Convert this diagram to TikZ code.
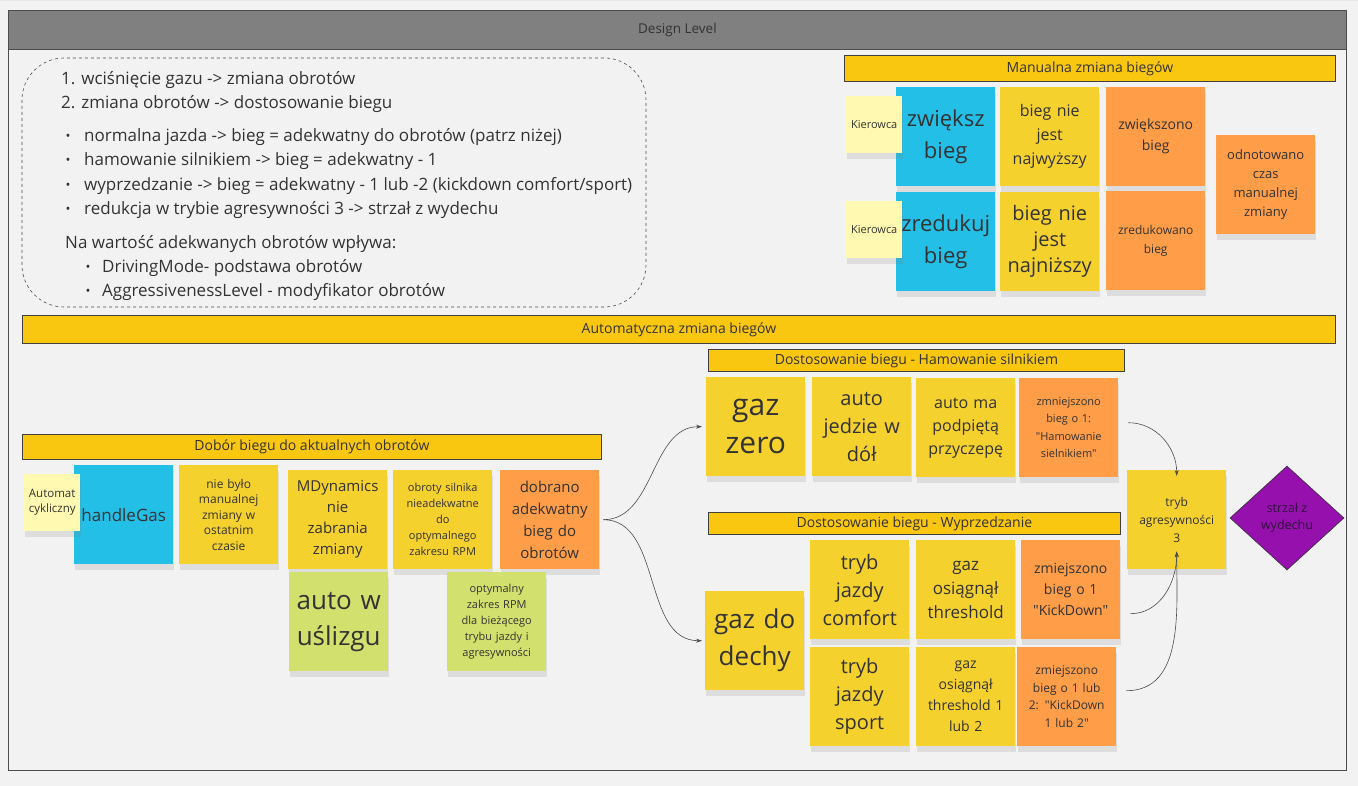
\documentclass[tikz,border=0pt]{standalone}
\usepackage{fontspec}
\setmainfont{Open Sans}[Ligatures=TeXOff]
\usepackage{xcolor}
\usepackage{tikz}
\usetikzlibrary{shapes.geometric,shadows,arrows.meta}

\definecolor{bgc}{HTML}{F2F2F2}
\definecolor{gridc}{HTML}{E7E7E7}
\definecolor{headc}{HTML}{808080}
\definecolor{barc}{HTML}{FAC710}
\definecolor{txtc}{HTML}{333333}
\definecolor{blueN}{HTML}{23BFE7}
\definecolor{yellowN}{HTML}{F5D12E}
\definecolor{orangeN}{HTML}{FF9D48}
\definecolor{paleN}{HTML}{FFF9B1}
\definecolor{greenN}{HTML}{D2E16E}
\definecolor{purpleN}{HTML}{9510AC}
\definecolor{shotc}{HTML}{2E1238}

\newcommand\fs[2]{\fontsize{#1}{#2}\selectfont}

\tikzset{
  note/.style={anchor=north west, minimum width=99pt, minimum height=99pt,
    inner sep=0pt, text width=99pt, align=center, text=txtc,
    drop shadow={shadow xshift=1pt, shadow yshift=-6pt, opacity=0.18}},
  small/.style={note, minimum width=56pt, minimum height=57pt, text width=56pt,
    fill=paleN, font=\fs{11}{15}},
  bar/.style={anchor=north west, draw=black!75, line width=0.8pt, fill=barc,
    inner sep=0pt, text=txtc, font=\fs{14}{16}},
  line/.style={anchor=west, inner sep=0pt, text=txtc, font=\fs{17}{20}},
  dot/.style={anchor=center, inner sep=0pt, text=txtc, font=\fs{13}{14}},
  flow/.style={draw=black!70, line width=0.6pt, -{Stealth[length=6pt,width=4pt]}}
}

\begin{document}
\begin{tikzpicture}[x=1pt,y=-1pt]
\useasboundingbox[fill=bgc] (0,0) rectangle (1358,786);
\draw[gridc, line width=0.5pt, step=50pt] (0,-786) grid (1358,0);

% frame and title
\draw[black!70, line width=0.8pt] (8,10) rectangle (1346,770);
\node[anchor=north west, minimum width=1338pt, minimum height=39pt, inner sep=0pt,
  draw=black!70, line width=0.8pt, fill=headc, text=black!80, font=\fs{13.5}{15}]
  (design) at (8,10) {Design Level};

% notes on the left
\draw[black!70, line width=0.6pt, dashed, rounded corners=42pt] (22,58) rectangle (646,307);
\node[line] (s1) at (61,80) {1. wciśnięcie gazu -> zmiana obrotów};
\node[line] (s2) at (61,104) {2. zmiana obrotów -> dostosowanie biegu};
\node[dot] (b1) at (68,137) {•};
\node[dot] (b2) at (68,161) {•};
\node[dot] (b3) at (68,186) {•};
\node[dot] (b4) at (68,210) {•};
\node[line] (t1) at (84,137) {normalna jazda -> bieg = adekwatny do obrotów (patrz niżej)};
\node[line] (t2) at (84,161) {hamowanie silnikiem -> bieg = adekwatny - 1};
\node[line] (t3) at (84,186) {wyprzedzanie -> bieg = adekwatny - 1 lub -2 (kickdown comfort/sport)};
\node[line] (t4) at (84,210) {redukcja w trybie agresywności 3 -> strzał z wydechu};
\node[line] (na) at (65,244) {Na wartość adekwanych obrotów wpływa:};
\node[dot] (c1) at (88,268) {•};
\node[dot] (c2) at (88,292) {•};
\node[line] (d1) at (102,268) {DrivingMode- podstawa obrotów};
\node[line] (d2) at (102,292) {AggressivenessLevel - modyfikator obrotów};

% manualna zmiana biegow
\node[bar, minimum width=491pt, minimum height=26pt] (manual) at (844,55) {Manualna zmiana biegów};
\node[note, fill=blueN, font=\fs{22}{32}] (up) at (896,87) {zwiększ\\bieg};
\node[note, fill=blueN, font=\fs{22}{32}] (down) at (896,192) {zredukuj\\bieg};
\node[small] (driver1) at (846,96) {Kierowca};
\node[small] (driver2) at (846,201) {Kierowca};
\node[note, fill=yellowN, font=\fs{16}{24}] (nottop) at (1000,87) {bieg nie\\jest\\najwyższy};
\node[note, fill=yellowN, font=\fs{20}{26}] (notlow) at (1000,192) {bieg nie\\jest\\najniższy};
\node[note, fill=orangeN, font=\fs{14}{21}] (raised) at (1106,87) {zwiększono\\bieg};
\node[note, fill=orangeN, font=\fs{12}{19}] (lowered) at (1106,191) {zredukowano\\bieg};
\node[note, fill=orangeN, font=\fs{13}{19}] (logged) at (1216,135) {odnotowano\\czas\\manualnej\\zmiany};

% automatyczna zmiana biegow
\node[bar, minimum width=1313pt, minimum height=28pt] (auto) at (22,315) {Automatyczna zmiana biegów};

\node[bar, minimum width=579pt, minimum height=25pt] (select) at (22,434) {Dobór biegu do aktualnych obrotów};
\node[note, fill=blueN, font=\fs{17}{20}] (gas) at (74,465) {handleGas};
\node[small, font=\fs{11.5}{15}] (cyclic) at (24,474) {Automat\\cykliczny};
\node[note, fill=yellowN, font=\fs{12}{15.5}] (nomanual) at (179,465) {nie było\\manualnej\\zmiany w\\ostatnim\\czasie};
\node[note, fill=yellowN, font=\fs{15}{21}] (mdyn) at (288,470) {MDynamics\\nie\\zabrania\\zmiany};
\node[note, fill=yellowN, font=\fs{11}{16}] (rpm) at (393,470) {obroty silnika\\nieadekwatne\\do\\optymalnego\\zakresu RPM};
\node[note, fill=orangeN, font=\fs{15}{22}] (chosen) at (500,470) {dobrano\\adekwatny\\bieg do\\obrotów};
\node[note, fill=greenN, font=\fs{26}{36}] (slip) at (289,572) {auto w\\uślizgu};
\node[note, fill=greenN, font=\fs{11}{16}] (range) at (447,572) {optymalny\\zakres RPM\\dla bieżącego\\trybu jazdy i\\agresywności};

% hamowanie silnikiem
\node[bar, minimum width=416pt, minimum height=22pt] (brake) at (708,349) {Dostosowanie biegu - Hamowanie silnikiem};
\node[note, fill=yellowN, font=\fs{30}{38}] (gaszero) at (706,377) {gaz\\zero};
\node[note, fill=yellowN, font=\fs{20}{28}] (downhill) at (812,377) {auto\\jedzie w\\dół};
\node[note, fill=yellowN, font=\fs{16}{23}] (trailer) at (916,378) {auto ma\\podpiętą\\przyczepę};
\node[note, fill=orangeN, font=\fs{11}{17.5}] (brakedown) at (1019,378) {zmniejszono\\bieg o 1:\\"Hamowanie\\sielnikiem"};

% wyprzedzanie
\node[bar, minimum width=412pt, minimum height=22pt] (overtake) at (708,512) {Dostosowanie biegu - Wyprzedzanie};
\node[note, fill=yellowN, font=\fs{26}{37}] (gasfull) at (705,591) {gaz do\\dechy};
\node[note, fill=yellowN, font=\fs{20}{28}] (comfort) at (810,540) {tryb\\jazdy\\comfort};
\node[note, fill=yellowN, font=\fs{17}{24}] (thr) at (916,540) {gaz\\osiągnął\\threshold};
\node[note, fill=orangeN, font=\fs{14}{21}] (kick) at (1021,540) {zmiejszono\\bieg o 1\\"KickDown"};
\node[note, fill=yellowN, font=\fs{20}{28}] (sport) at (810,647) {tryb\\jazdy\\sport};
\node[note, fill=yellowN, font=\fs{14}{21}] (thrtwo) at (916,647) {gaz\\osiągnął\\threshold 1\\lub 2};
\node[note, fill=orangeN, font=\fs{12}{17.5}] (kicktwo) at (1017,647) {zmiejszono\\bieg o 1 lub\\2: "KickDown\\1 lub 2"};

% agresywnosc
\node[note, fill=yellowN, font=\fs{12}{18}] (aggr) at (1127,470) {tryb\\agresywności\\3};
\node[diamond, draw=black!80, line width=0.6pt, fill=purpleN, minimum width=114pt,
  minimum height=104pt, inner sep=0pt, align=center, text=shotc, font=\fs{12.5}{17}]
  (shot) at (1287,518) {strzał z\\wydechu};

% connectors
\draw[flow, shorten <=4pt, shorten >=4pt] (chosen.east) to[out=0, in=180] (gaszero.west);
\draw[flow, shorten <=4pt, shorten >=3pt] (chosen.east) to[out=0, in=180] (gasfull.west);
\draw[flow] ([xshift=10pt, yshift=5pt]brakedown.east) to[out=0, in=90] ([yshift=-6pt]aggr.north);
\draw[flow] ([xshift=10pt, yshift=-24pt]kick.east) to[out=0, in=-90] ([yshift=18pt]aggr.south);
\draw[flow] ([xshift=10pt, yshift=6pt]kicktwo.east) to[out=0, in=-90] ([yshift=18pt]aggr.south);
\end{tikzpicture}
\end{document}
